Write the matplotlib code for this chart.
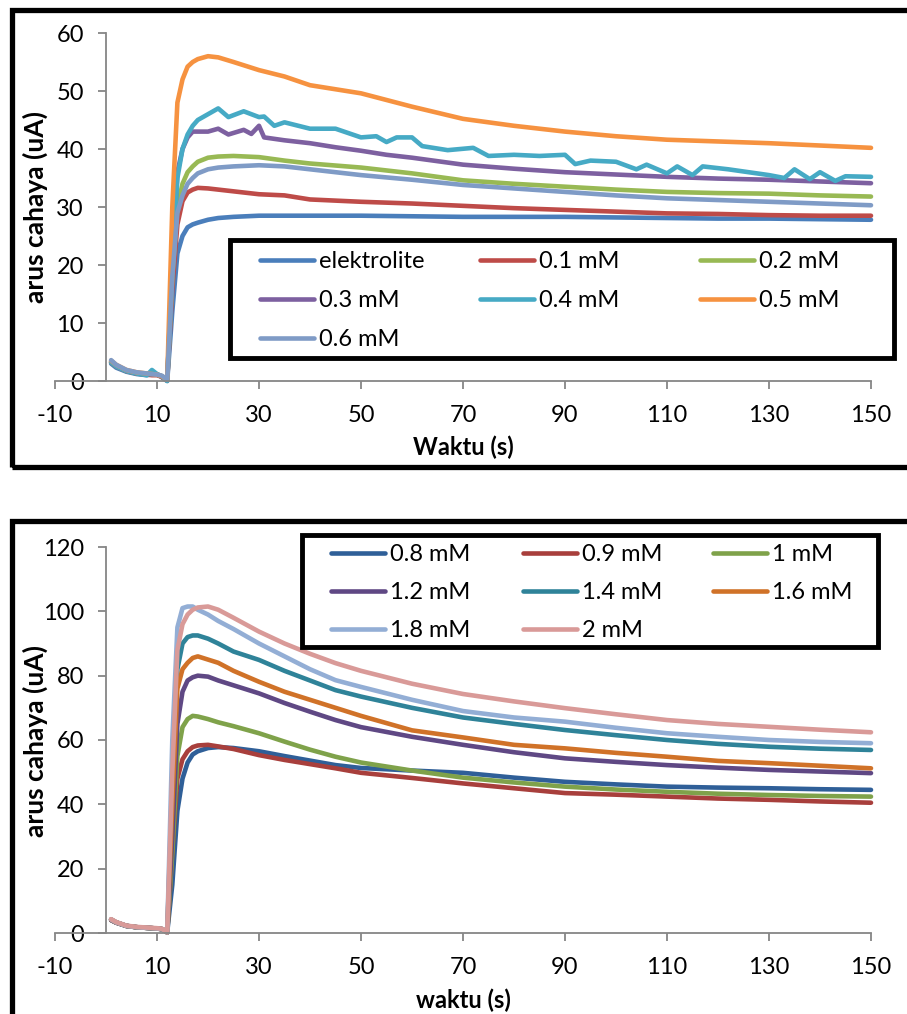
import matplotlib
matplotlib.use("Agg")
import matplotlib.pyplot as plt
from matplotlib.patches import Rectangle

plt.rcParams['font.family'] = ['Lato', 'DejaVu Sans']
plt.rcParams['axes.unicode_minus'] = False

W, H = 907, 1014

# ---------------- top chart data (waktu in s, arus in uA) ----------------
t_top = [1, 2, 4, 6, 8, 9, 10, 11, 12, 13, 14, 15, 16, 17, 18, 20, 22,
         25, 30, 35, 40, 50, 60, 70, 80, 90, 100, 110, 120, 130, 140, 150]

elektrolite = [3.0, 2.3, 1.6, 1.2, 1.0, 1.2, 1.2, 0.6, 0.0,
               12, 22, 25, 26.5, 27, 27.3, 27.8, 28.1,
               28.3, 28.5, 28.5, 28.5, 28.5, 28.4, 28.3, 28.3, 28.3, 28.2, 28.1, 28.0, 28.0, 27.9, 27.8]
mM_01 = [3.2, 2.5, 1.7, 1.3, 1.1, 1.0, 1.0, 0.7, 0.1,
         16, 27, 31, 32.5, 33, 33.3, 33.2, 33,
         32.7, 32.2, 32, 31.3, 30.9, 30.6, 30.2, 29.8, 29.5, 29.2, 28.9, 28.8, 28.6, 28.5, 28.5]
mM_02 = [3.3, 2.6, 1.8, 1.4, 1.2, 1.1, 1.1, 0.8, 0.1,
         18, 30, 34, 36, 37, 37.8, 38.5, 38.7,
         38.8, 38.6, 38, 37.5, 36.8, 35.8, 34.6, 34, 33.5, 33, 32.6, 32.4, 32.3, 32, 31.8]
mM_05 = [3.5, 2.8, 1.9, 1.5, 1.3, 1.2, 1.1, 0.8, 0.2,
         30, 48, 52, 54.2, 55, 55.5, 56, 55.8,
         55, 53.6, 52.5, 51, 49.6, 47.3, 45.2, 44, 43, 42.2, 41.6, 41.3, 41, 40.6, 40.2]
mM_06 = [3.6, 2.8, 1.9, 1.5, 1.3, 1.2, 1.1, 0.9, 0.2,
         18, 29, 32, 34, 35, 35.8, 36.5, 36.8,
         37, 37.2, 37, 36.5, 35.5, 34.7, 33.8, 33.2, 32.6, 32, 31.5, 31.2, 30.9, 30.6, 30.3]

t_03 = [1, 2, 4, 6, 8, 9, 10, 11, 12, 13, 14, 15, 16, 17, 18, 20, 22,
        24, 27, 28.5, 30, 31, 35, 40, 45, 50, 55, 60, 70, 80, 90, 100, 110,
        120, 130, 140, 150]
mM_03 = [3.3, 2.6, 1.8, 1.4, 1.2, 1.1, 1.1, 0.8, 0.1,
         20, 36, 40, 42, 43, 43, 43, 43.5,
         42.5, 43.3, 42.6, 44, 42, 41.5, 41, 40.3, 39.7, 39, 38.5, 37.3, 36.6, 36, 35.6, 35.2,
         34.9, 34.7, 34.4, 34.1]

t_04 = [1, 2, 4, 6, 8, 9, 10, 11, 12, 13, 14, 15, 16, 17, 18, 20, 22,
        24, 27, 30, 31, 33, 35, 40, 45, 50, 53, 55, 57, 60, 62, 67, 72,
        75, 80, 85, 90, 92, 95, 100, 104, 106, 110, 112, 115, 117, 122, 130, 133,
        135, 138, 140, 143, 145, 150]
mM_04 = [3.2, 2.5, 1.7, 1.3, 1.0, 1.9, 1.2, 0.8, 0.0,
         20, 35, 40, 42.5, 44, 45, 46, 47,
         45.5, 46.5, 45.5, 45.6, 44, 44.6, 43.5, 43.5, 42, 42.2, 41.2, 42, 42, 40.5, 39.8, 40.2,
         38.8, 39, 38.8, 39, 37.4, 38, 37.8, 36.5, 37.3, 35.8, 37, 35.5, 37, 36.5, 35.5, 35,
         36.5, 34.8, 36, 34.5, 35.3, 35.2]

# ---------------- bottom chart data ----------------
t_bot = [1, 2, 4, 6, 8, 10, 11, 12, 13, 14, 15, 16, 17, 18, 20, 22,
         25, 30, 35, 40, 45, 50, 60, 70, 80, 90, 100, 110, 120, 130, 140, 150]

mM_08 = [4.0, 3.2, 2.2, 1.8, 1.6, 1.4, 1.2, 0.2, 15, 38, 48, 53, 55.5, 56.5, 57.5, 57.8,
         57.5, 56.5, 55, 53.6, 52.2, 51.3, 50.5, 49.8, 48.3, 47, 46.2, 45.5, 45.2, 45, 44.7, 44.5]
mM_09 = [4.0, 3.2, 2.2, 1.8, 1.6, 1.4, 1.2, 0.2, 25, 48, 54, 56.5, 57.8, 58.3, 58.5, 58,
         57.2, 55.3, 53.8, 52.5, 51.2, 49.8, 48.2, 46.5, 45, 43.5, 43, 42.4, 41.8, 41.4, 40.9, 40.5]
mM_1 = [4.1, 3.3, 2.2, 1.8, 1.6, 1.4, 1.2, 0.2, 25, 55, 64, 66.5, 67.5, 67.3, 66.5, 65.5,
        64.3, 62.1, 59.5, 57, 54.8, 53, 50.5, 48.3, 46.8, 45.5, 44.6, 43.9, 43.3, 42.9, 42.6, 42.4]
mM_12 = [4.1, 3.3, 2.2, 1.8, 1.6, 1.4, 1.2, 0.2, 30, 65, 75, 78.5, 79.5, 80, 79.7, 78.5,
         77, 74.5, 71.5, 68.8, 66.2, 64, 61, 58.5, 56.2, 54.3, 53.2, 52.2, 51.4, 50.7, 50.2, 49.7]
mM_14 = [4.2, 3.3, 2.2, 1.8, 1.6, 1.4, 1.2, 0.2, 45, 82, 90, 92, 92.5, 92.5, 91.5, 90,
         87.5, 84.9, 81.5, 78.5, 75.5, 73.5, 70, 67, 65, 63.1, 61.5, 60, 58.8, 57.9, 57.3, 56.9]
mM_16 = [4.2, 3.3, 2.2, 1.8, 1.6, 1.4, 1.2, 0.2, 40, 76, 82, 84, 85.5, 86, 85, 84,
         81.5, 78.1, 75, 72.5, 70, 67.5, 63, 60.8, 58.5, 57.4, 56, 54.8, 53.5, 52.8, 52, 51.2]
mM_18 = [4.2, 3.3, 2.2, 1.8, 1.6, 1.4, 1.2, 0.2, 60, 95, 101, 101.5, 101.5, 100.5, 99, 97,
         94.5, 90, 86, 82, 78.6, 76.5, 72.5, 69, 67, 65.7, 63.8, 62.1, 61, 60, 59.4, 59]
mM_2 = [4.3, 3.4, 2.3, 1.9, 1.7, 1.5, 1.3, 0.2, 50, 88, 96, 99, 100.5, 101.2, 101.5, 100.5,
        98, 93.7, 90, 86.8, 83.9, 81.5, 77.5, 74.3, 72, 69.9, 68, 66.2, 65, 64.1, 63.2, 62.4]

top_series = [
    ("elektrolite", t_top, elektrolite, "#4A7EBB"),
    ("0.1 mM", t_top, mM_01, "#BE4B48"),
    ("0.2 mM", t_top, mM_02, "#98B954"),
    ("0.3 mM", t_03, mM_03, "#7D60A0"),
    ("0.4 mM", t_04, mM_04, "#46AAC5"),
    ("0.5 mM", t_top, mM_05, "#F69240"),
    ("0.6 mM", t_top, mM_06, "#7F9BC6"),
]
bot_series = [
    ("0.8 mM", mM_08, "#2F5F98"),
    ("0.9 mM", mM_09, "#A83F3C"),
    ("1 mM", mM_1, "#7FA24A"),
    ("1.2 mM", mM_12, "#5F4884"),
    ("1.4 mM", mM_14, "#2F8399"),
    ("1.6 mM", mM_16, "#D07228"),
    ("1.8 mM", mM_18, "#93AED5"),
    ("2 mM", mM_2, "#D99A98"),
]

# legend layout, Excel style (rows filled left to right, equal column widths)
top_cols = [["elektrolite", "0.3 mM", "0.6 mM"], ["0.1 mM", "0.4 mM"], ["0.2 mM", "0.5 mM"]]
bot_cols = [["0.8 mM", "1.2 mM", "1.8 mM"], ["0.9 mM", "1.4 mM", "2 mM"], ["1 mM", "1.6 mM"]]

FS = 17


def px_box(left, top, right, bottom):
    return [left / W, 1 - bottom / H, (right - left) / W, (bottom - top) / H]


def style_axis(ax, ymax, ystep):
    ax.set_xlim(-10, 150)
    ax.set_ylim(0, ymax)
    ax.set_xticks(range(-10, 151, 20))
    ax.set_yticks(range(0, ymax + 1, ystep))
    ax.spines['left'].set_position(('data', 0))
    ax.spines[['top', 'right']].set_visible(False)
    for s in ['left', 'bottom']:
        ax.spines[s].set_color('#868686')
        ax.spines[s].set_linewidth(1.3)
    ax.tick_params(axis='both', direction='out', length=6, width=1.3,
                   color='#868686', labelsize=FS, labelcolor='black')
    ax.tick_params(axis='x', pad=11)
    ax.tick_params(axis='y', pad=10)
    ax.patch.set_alpha(0)


def excel_legend(fig, handles, cols, frame, col_x, top_y, spacing):
    left, top, right, bottom = frame
    fig.add_artist(Rectangle((left / W, 1 - bottom / H), (right - left) / W, (bottom - top) / H,
                             transform=fig.transFigure, facecolor='white', edgecolor='black',
                             linewidth=3.5, zorder=2))
    for names, x in zip(cols, col_x):
        leg = fig.legend([handles[k] for k in names], names, loc='upper left',
                         bbox_to_anchor=(x / W, 1 - top_y / H), fontsize=FS,
                         handlelength=2.3, handletextpad=0.2, labelspacing=spacing,
                         borderpad=0, borderaxespad=0, frameon=False)
        leg.set_zorder(3)


fig = plt.figure(figsize=(W / 100, H / 100), dpi=100)
fig.patch.set_facecolor('white')

# outer chart frames
fig.add_artist(Rectangle((12 / W, 1 - 467 / H), 1.0, 457 / H, transform=fig.transFigure,
                         fill=False, edgecolor='black', linewidth=3.8, clip_on=False))
fig.add_artist(Rectangle((12 / W, -0.1), 1.0, 0.1 + (1014 - 521) / H, transform=fig.transFigure,
                         fill=False, edgecolor='black', linewidth=3.8, clip_on=False))

# ---- top chart ----
ax1 = fig.add_axes(px_box(55, 33, 871, 381))
style_axis(ax1, 60, 10)
h1 = {}
for label, t, v, c in top_series:
    h1[label], = ax1.plot(t, v, color=c, lw=3.3, label=label, clip_on=False,
                          solid_capstyle='round', solid_joinstyle='round')

excel_legend(fig, h1, top_cols, (230, 240, 894, 358), [260, 480, 700], 251, 0.76)

fig.text(463 / W, 1 - 447 / H, "Waktu (s)", ha='center', va='center', fontsize=17, fontweight='bold')
fig.text(35 / W, 1 - 207 / H, "arus cahaya (uA)", ha='center', va='center', rotation=90,
         fontsize=19, fontweight='bold')

# ---- bottom chart ----
ax2 = fig.add_axes(px_box(55, 547, 871, 933))
style_axis(ax2, 120, 20)
h2 = {}
for label, v, c in bot_series:
    h2[label], = ax2.plot(t_bot, v, color=c, lw=3.3, label=label, clip_on=False,
                          solid_capstyle='round', solid_joinstyle='round')

excel_legend(fig, h2, bot_cols, (302, 535, 878, 647), [331, 523, 713], 544, 0.73)

fig.text(463 / W, 1 - 1000 / H, "waktu (s)", ha='center', va='center', fontsize=17, fontweight='bold')
fig.text(35 / W, 1 - 741 / H, "arus cahaya (uA)", ha='center', va='center', rotation=90,
         fontsize=19, fontweight='bold')

fig.savefig("out.png", dpi=100)
